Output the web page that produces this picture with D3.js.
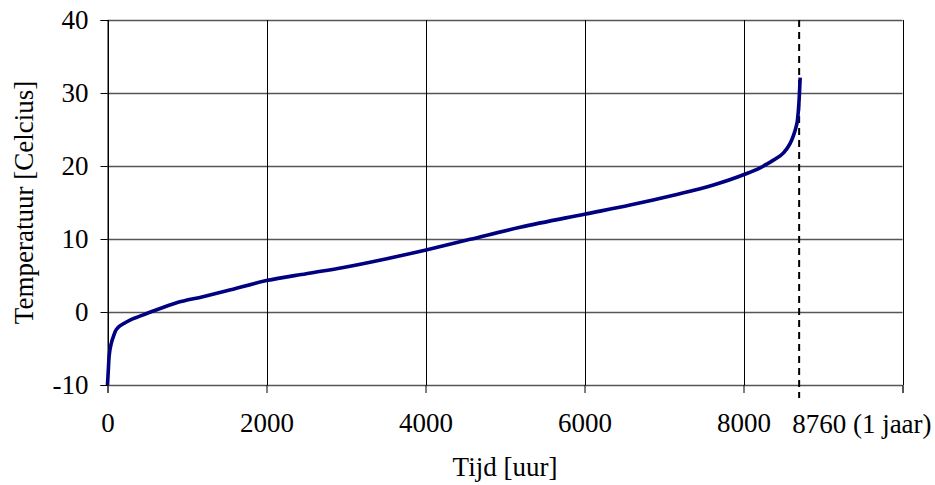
<!DOCTYPE html>
<html>
<head>
<meta charset="utf-8">
<script src="https://cdn.jsdelivr.net/npm/d3@7"></script>
<style>
  html, body { margin: 0; padding: 0; background: #fff; }
  svg { display: block; }
  text { font-family: "Liberation Serif", "Times New Roman", serif; fill: #000; }
</style>
</head>
<body>
<svg id="chart" width="935" height="485"></svg>
<script>
// Data
const hours = [0, 10, 20, 50, 73, 100, 136, 200, 283, 400, 576, 870, 1200, 1500, 2000, 2500, 2967, 3513, 4007, 4561, 5190, 6000, 6574, 7119, 7622, 8000, 8209, 8300, 8400, 8503, 8587, 8629, 8660, 8679, 8697, 8713];
const temps = [-10, -8, -6.1, -4.2, -3.4, -2.6, -2.1, -1.6, -1.1, -0.6, 0.14, 1.27, 2.1, 2.9, 4.3, 5.25, 6.1, 7.3, 8.5, 9.95, 11.6, 13.4, 14.65, 16.0, 17.4, 18.8, 19.75, 20.3, 20.95, 21.8, 23.1, 24.2, 25.3, 26.3, 28.6, 32.1];
const xTicks = [0, 2000, 4000, 6000, 8000, 10000];
const xTickLabels = ["0", "2000", "4000", "6000", "8000", ""];
const yTicks = [-10, 0, 10, 20, 30, 40];
const yearMarker = [8700];
const yearLabel = ["8760 (1 jaar)"];
const xTitle = "Tijd [uur]";
const yTitle = "Temperatuur [Celcius]";

const svg = d3.select("#chart");
const L = 107.5, R = 902.5, T = 20, B = 385;
const x = d3.scaleLinear().domain([0, 10000]).range([L, R]);
const y = d3.scaleLinear().domain([-10, 40]).range([B, T]);
const fs = 27;

// Horizontal gridlines
svg.append("g").selectAll("line").data(yTicks).join("line")
  .attr("x1", L).attr("x2", R)
  .attr("y1", d => Math.round(y(d)) + 0.5).attr("y2", d => Math.round(y(d)) + 0.5)
  .attr("stroke", "#555").attr("stroke-width", 1.3);

// Vertical gridlines
svg.append("g").selectAll("line").data(xTicks).join("line")
  .attr("x1", d => Math.round(x(d)) + 0.5).attr("x2", d => Math.round(x(d)) + 0.5)
  .attr("y1", T).attr("y2", B)
  .attr("stroke", "#000").attr("stroke-width", 1);

// Y axis
const yAxis = svg.append("g").attr("transform", `translate(${L},0)`)
  .call(d3.axisLeft(y).tickValues(yTicks).tickSize(7).tickPadding(12).tickFormat(d => String(d)));
yAxis.select(".domain").attr("stroke", "#000");
yAxis.selectAll(".tick line").attr("stroke", "#000");
yAxis.selectAll("text").style("font-size", fs + "px").style("font-family", "Liberation Serif");

// X axis
const xAxis = svg.append("g").attr("transform", `translate(0,${B})`)
  .call(d3.axisBottom(x).tickValues(xTicks).tickSize(8).tickPadding(20)
    .tickFormat((d, i) => xTickLabels[i]));
xAxis.select(".domain").attr("stroke", "#555");
xAxis.selectAll(".tick line").attr("stroke", "#000");
xAxis.selectAll("text").style("font-size", fs + "px").style("font-family", "Liberation Serif");

// Year marker (dashed)
svg.append("g").selectAll("line").data(yearMarker).join("line")
  .attr("x1", d => x(d)).attr("x2", d => x(d))
  .attr("y1", T).attr("y2", B + 13)
  .attr("stroke", "#000").attr("stroke-width", 2)
  .attr("stroke-dasharray", "7,5");
svg.append("g").selectAll("text").data(yearLabel).join("text")
  .attr("x", x(yearMarker[0]) - 7).attr("y", 433)
  .attr("text-anchor", "start")
  .style("font-size", fs + "px")
  .text(d => d);

// Curve
const pts = hours.map((h, i) => [h, temps[i]]);
svg.append("path").datum(pts)
  .attr("fill", "none")
  .attr("stroke", "#000080")
  .attr("stroke-width", 3.6)
  .attr("stroke-linejoin", "round")
  .attr("d", d3.line().x(d => x(d[0])).y(d => y(d[1])).curve(d3.curveMonotoneX));

// Titles
svg.append("text").attr("x", (L + R) / 2).attr("y", 476)
  .attr("text-anchor", "middle").style("font-size", fs + "px").text(xTitle);
svg.append("text").attr("transform", `translate(33,${(T + B) / 2}) rotate(-90)`)
  .attr("text-anchor", "middle").style("font-size", fs + "px").text(yTitle);
</script>
</body>
</html>
